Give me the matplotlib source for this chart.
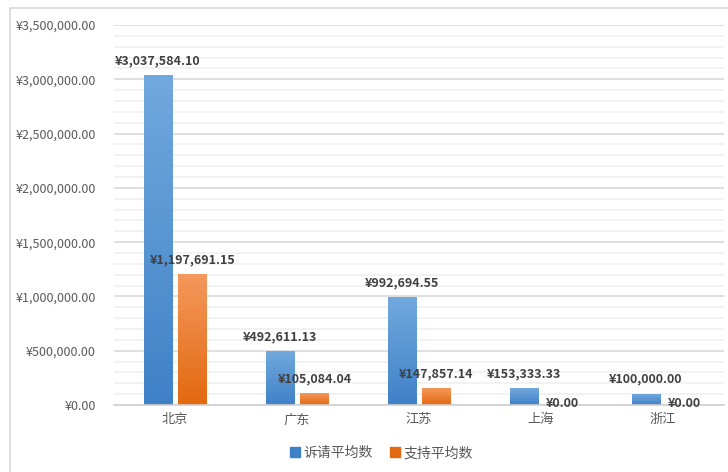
import numpy as np
import matplotlib
matplotlib.use("Agg")
import matplotlib.pyplot as plt
from matplotlib.patches import Patch, Rectangle
from matplotlib.colors import LinearSegmentedColormap
from matplotlib.ticker import MultipleLocator, FuncFormatter

plt.rcParams['font.family'] = ['Noto Sans CJK SC', 'DejaVu Sans']

regions = ["北京", "广东", "江苏", "上海", "浙江"]
claim_avg = [3037584.10, 492611.13, 992694.55, 153333.33, 100000.00]
support_avg = [1197691.15, 105084.04, 147857.14, 0.00, 0.00]
series_names = ["诉请平均数", "支持平均数"]

blue_top, blue_bottom = "#72a9de", "#3f81c7"
orange_top, orange_bottom = "#f4985c", "#e2690f"

fig = plt.figure(figsize=(7.28, 4.72), dpi=100)
ax = fig.add_axes([114 / 728, 1 - 405 / 472, 610 / 728, 380 / 472])

x = np.arange(len(regions))
w = 0.23
off = 0.143
bars1 = ax.bar(x - off, claim_avg, w, color=blue_bottom, zorder=3)
bars2 = ax.bar(x + off, support_avg, w, color=orange_bottom, zorder=3)


def paint_gradient(bars, top, bottom):
    cmap = LinearSegmentedColormap.from_list("g", [bottom, top])
    grad = np.linspace(0, 1, 256).reshape(-1, 1)
    for b in bars:
        h = b.get_height()
        if h <= 0:
            continue
        x0 = b.get_x()
        ax.imshow(grad, cmap=cmap, origin="lower", aspect="auto",
                  extent=(x0, x0 + b.get_width(), 0, h), zorder=4)


paint_gradient(bars1, blue_top, blue_bottom)
paint_gradient(bars2, orange_top, orange_bottom)

ax.set_xlim(-0.5, len(regions) - 0.5)
ax.set_ylim(0, 3500000)
ax.yaxis.set_major_locator(MultipleLocator(500000))
ax.yaxis.set_minor_locator(MultipleLocator(100000))
ax.yaxis.set_major_formatter(FuncFormatter(lambda v, p: f"¥{v:,.2f}"))
ax.grid(axis="y", which="major", color="#d9d9d9", lw=1.2, zorder=0)
ax.grid(axis="y", which="minor", color="#f0f0f0", lw=1.2, zorder=0)
ax.set_xticks(x)
ax.set_xticklabels(regions)
ax.tick_params(axis="both", which="both", length=0, colors="#595959")
ax.tick_params(axis="y", labelsize=9, pad=13)
ax.tick_params(axis="x", labelsize=9.5, pad=6)
for s in ["top", "right", "left"]:
    ax.spines[s].set_visible(False)
ax.spines["bottom"].set_color("#d0d0d0")
ax.spines["bottom"].set_linewidth(1.2)
ax.spines["bottom"].set_zorder(5)

for bars, vals in ((bars1, claim_avg), (bars2, support_avg)):
    for b, v in zip(bars, vals):
        cx = b.get_x() + b.get_width() / 2
        if v > 0:
            offset, va = (0, 6), "bottom"
        else:
            offset, va = (3, 1), "center"
        ax.annotate(f"¥{v:,.2f}", (cx, v), xytext=offset,
                    textcoords="offset points", ha="center", va=va,
                    fontsize=9, fontweight="bold", color="#404040",
                    zorder=6, annotation_clip=False)

handles = [Patch(color=blue_bottom), Patch(color=orange_bottom)]
fig.legend(handles, series_names, loc="center", bbox_to_anchor=(0.524, 0.04),
           ncol=2, frameon=False, handlelength=0.7, handleheight=0.7,
           handletextpad=0.3, columnspacing=1.2, fontsize=10,
           labelcolor="#595959")

fig.patches.append(Rectangle((10 / 728, -0.1), 1.2, 1 - 8 / 472 + 0.1,
                             transform=fig.transFigure, fill=False,
                             edgecolor="#d9d9d9", lw=1.2, zorder=0))

fig.savefig("out.png", dpi=100, facecolor="white")
